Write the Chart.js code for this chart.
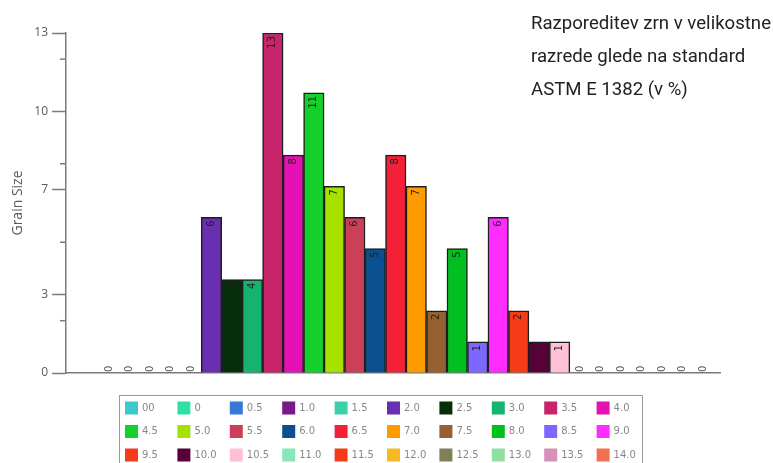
<!DOCTYPE html>
<html>
<head>
<meta charset="utf-8">
<title>Grain Size</title>
<script src="https://cdn.jsdelivr.net/npm/chart.js@4.4.1/dist/chart.umd.min.js"></script>
<style>
  body { margin: 0; background: #fff; }
  #wrap { position: relative; width: 773px; height: 463px; }
</style>
</head>
<body>
<div id="wrap"><canvas id="grainChart"></canvas></div>
<script>
// velikostni razredi (ASTM E 1382) in delez zrn v %
const classes = ["00", "0", "0.5", "1.0", "1.5", "2.0", "2.5", "3.0", "3.5", "4.0",
                 "4.5", "5.0", "5.5", "6.0", "6.5", "7.0", "7.5", "8.0", "8.5", "9.0",
                 "9.5", "10.0", "10.5", "11.0", "11.5", "12.0", "12.5", "13.0", "13.5", "14.0"];
const shares = [0, 0, 0, 0, 0, 5.95, 3.57, 3.57, 13.0, 8.33,
                10.71, 7.14, 5.95, 4.76, 8.33, 7.14, 2.38, 4.76, 1.19, 5.95,
                2.38, 1.19, 1.19, 0, 0, 0, 0, 0, 0, 0];
const classColors = ["#3cc8cc", "#2ee0a4", "#3a78d8", "#7a1a8a", "#3cd0aa", "#6a2fb0", "#062e08", "#16b36e", "#c8246c", "#e411b4",
                     "#14d02a", "#a8e000", "#cc3f58", "#0a5090", "#f42038", "#ff9a00", "#966030", "#00c020", "#7c68ff", "#ff2cff",
                     "#f43c18", "#58003a", "#ffc0d6", "#88e8b8", "#f43c18", "#f8b820", "#808058", "#90e0a0", "#d890b8", "#f07050"];
const yTicks = [0, 3, 7, 10, 13];
const yMinorTicks = [2, 5, 8, 12];
const titleLines = ["Razporeditev zrn v velikostne", "razrede glede na standard", "ASTM E 1382 (v %)"];

const axisGrey = "#7a7a7a";

// vrednosti navpicno na vrhu stolpcev
const valueLabels = {
    id: "valueLabels",
    afterDatasetsDraw(chart) {
        const c = chart.ctx;
        const meta = chart.getDatasetMeta(0);
        c.save();
        c.font = "10px 'DejaVu Sans'";
        c.textBaseline = "middle";
        meta.data.forEach((bar, i) => {
            const v = shares[i];
            c.save();
            c.translate(bar.x, bar.y);
            c.rotate(-Math.PI / 2);
            if (v === 0) {
                c.fillStyle = "#555";
                c.textAlign = "left";
                c.fillText("0", 1, 0);
            } else {
                c.fillStyle = "#222";
                c.textAlign = "right";
                c.fillText(String(Math.round(v)), -3, 0);
            }
            c.restore();
        });
        c.restore();
    }
};

// manjse oznake na osi y
const minorTicks = {
    id: "minorTicks",
    afterDraw(chart) {
        const c = chart.ctx;
        const y = chart.scales.y;
        c.save();
        c.strokeStyle = axisGrey;
        c.lineWidth = 1.5;
        yMinorTicks.forEach(v => {
            const py = y.getPixelForValue(v);
            c.beginPath();
            c.moveTo(y.right - 6, py);
            c.lineTo(y.right, py);
            c.stroke();
        });
        c.restore();
    }
};

// legenda v mrezi 10 x 3
const gridLegend = {
    id: "gridLegend",
    afterDraw(chart) {
        const c = chart.ctx;
        const left = 119, top = 395, colW = 52.4, rowH = 23.5;
        c.save();
        c.strokeStyle = "#9a9a9a";
        c.lineWidth = 1;
        c.strokeRect(left + 0.5, top + 0.5, 523, 80);
        c.font = "10px 'DejaVu Sans'";
        c.textBaseline = "middle";
        c.textAlign = "left";
        classes.forEach((name, i) => {
            const x = left + 6 + (i % 10) * colW;
            const yc = top + 13 + Math.floor(i / 10) * rowH;
            c.fillStyle = classColors[i];
            c.fillRect(x, yc - 6.5, 13, 13);
            c.fillStyle = "#888";
            c.fillText(name, x + 17, yc);
        });
        c.restore();
    }
};

// naslov zgoraj desno
const sideTitle = {
    id: "sideTitle",
    afterDraw(chart) {
        const c = chart.ctx;
        c.save();
        c.font = "18px Roboto";
        c.fillStyle = "#222";
        c.textBaseline = "alphabetic";
        const w = c.measureText(titleLines[0]).width;
        const sx = 240 / w;
        titleLines.forEach((line, i) => {
            c.save();
            c.translate(531, 29 + i * 33);
            c.scale(sx, 1);
            c.fillText(line, 0, 0);
            c.restore();
        });
        c.restore();
    }
};

new Chart(document.getElementById("grainChart"), {
    type: "bar",
    data: {
        datasets: [{
            label: "Grain Size",
            data: shares.map((v, i) => ({ x: i, y: v })),
            backgroundColor: ctx => (shares[ctx.dataIndex] === 0 ? "rgba(0,0,0,0)" : classColors[ctx.dataIndex]),
            borderColor: "#1e1e1e",
            borderWidth: ctx => (shares[ctx.dataIndex] === 0 ? 0 : 1.5),
            borderSkipped: "start",
            barPercentage: 1,
            categoryPercentage: 1
        }]
    },
    options: {
        responsive: true,
        maintainAspectRatio: false,
        animation: false,
        layout: { padding: { top: 33, right: 53, bottom: 82, left: 0 } },
        plugins: {
            legend: { display: false },
            tooltip: { enabled: false }
        },
        scales: {
            x: {
                type: "linear",
                offset: false,
                min: -2.1,
                max: 29.83,
                ticks: { display: false },
                grid: { display: false, offset: false },
                border: { color: axisGrey, width: 1.5 }
            },
            y: {
                min: 0,
                max: 13,
                afterBuildTicks: s => { s.ticks = yTicks.map(v => ({ value: v })); },
                afterFit: s => { s.width = 66; },
                grid: { drawOnChartArea: false, drawTicks: true, tickLength: 14, tickColor: axisGrey, tickWidth: 1.5 },
                border: { color: axisGrey, width: 1.5 },
                ticks: { color: "#5a5a5a", font: { size: 12, family: "'Open Sans'" }, padding: 4 },
                title: {
                    display: true,
                    text: "Grain Size",
                    color: "#5a5a5a",
                    font: { size: 14, family: "'Open Sans'" },
                    padding: { top: 10, bottom: 0 }
                }
            }
        }
    },
    plugins: [valueLabels, minorTicks, gridLegend, sideTitle]
});
</script>
</body>
</html>
